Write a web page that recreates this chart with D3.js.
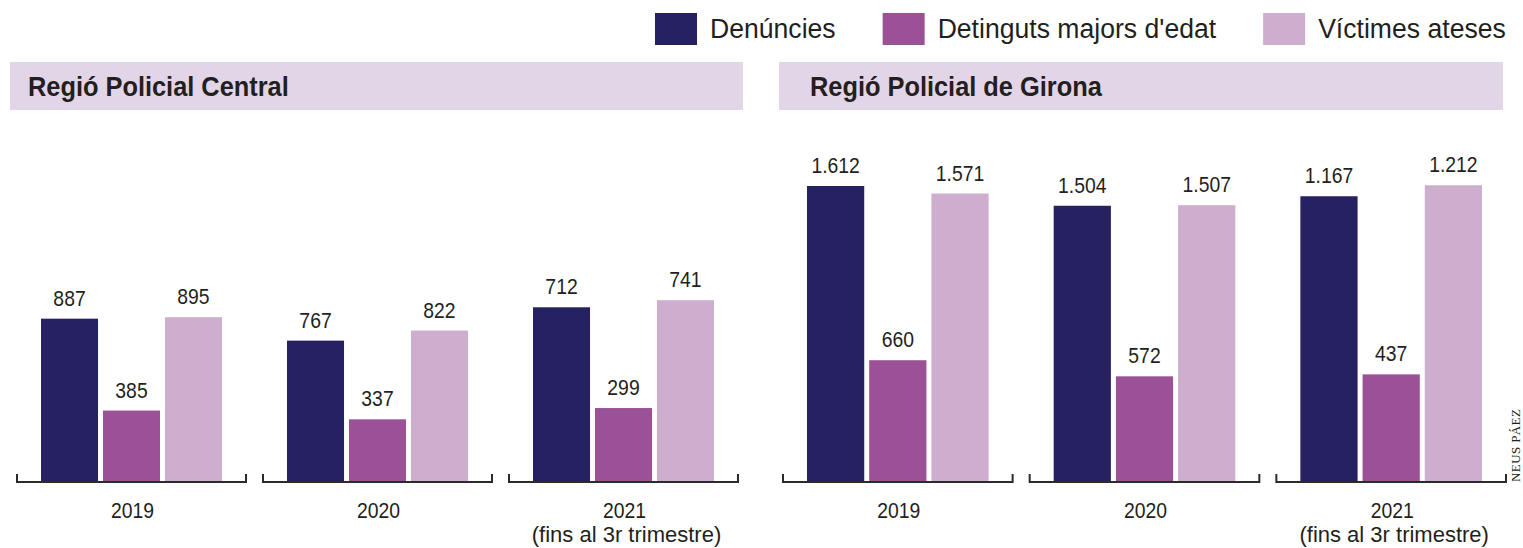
<!DOCTYPE html>
<html>
<head>
<meta charset="utf-8">
<script src="https://cdn.jsdelivr.net/npm/d3@7"></script>
<style>
  body { margin: 0; background: #fff; }
  svg text { font-family: "Liberation Sans", Arial, sans-serif; fill: #231f20; }
</style>
</head>
<body>
<div id="chart"></div>
<script>
// data
const years = ["2019", "2020", "2021"];
const yearNotes = ["", "", "(fins al 3r trimestre)"];
const yearMonths = [12, 12, 9];   // 2021 only covers three quarters
const series = ["Denúncies", "Detinguts majors d'edat", "Víctimes ateses"];
const colors = ["#262262", "#9b5196", "#cdaecf"];

const regions = ["Regió Policial Central", "Regió Policial de Girona"];
const centralDenuncies = [887, 767, 712];
const centralDetinguts = [385, 337, 299];
const centralVictimes  = [895, 822, 741];
const gironaDenuncies  = [1612, 1504, 1167];
const gironaDetinguts  = [660, 572, 437];
const gironaVictimes   = [1571, 1507, 1212];

const panelValues = [
    [centralDenuncies, centralDetinguts, centralVictimes],
    [gironaDenuncies, gironaDetinguts, gironaVictimes]
];

const W = 1523, H = 548;
const baseline = 481;

const svg = d3.select("#chart").append("svg")
    .attr("width", W)
    .attr("height", H);

const fmt = d3.formatLocale({ decimal: ",", thousands: ".", grouping: [3], currency: ["", "€"] }).format(",d");

// condensed look: squeeze text horizontally
function label(parent, x, y, str, size, sx, opts = {}) {
    const t = parent.append("text")
        .attr("transform", `translate(${x},${y}) scale(${sx},1)`)
        .attr("text-anchor", opts.anchor || "start")
        .style("font-size", size + "px")
        .style("font-weight", opts.bold ? "bold" : "normal")
        .text(str);
    return t;
}

// partial years are drawn as if scaled to a full year
const maxVal = d3.max(panelValues.flat(2));
const yScales = yearMonths.map(m => d3.scaleLinear()
    .domain([0, maxVal * m / 12])
    .range([baseline, 186]));

// legend
let lx = 655;
series.forEach((s, i) => {
    svg.append("rect")
        .attr("x", lx).attr("y", 13)
        .attr("width", 42).attr("height", 32)
        .attr("fill", colors[i]);
    const t = label(svg, lx + 55, 38, s, 28, 0.95);
    lx += 55 + t.node().getComputedTextLength() * 0.95 + 47;
});

const panels = [
    { band: [10, 743], range: [16, 739], titleX: 28 },
    { band: [779, 1503], range: [782, 1507], titleX: 810 }
];

panels.forEach((p, pi) => {
    const g = svg.append("g");

    g.append("rect")
        .attr("x", p.band[0]).attr("y", 62)
        .attr("width", p.band[1] - p.band[0]).attr("height", 48)
        .attr("fill", "#e3d5e8");

    label(g, p.titleX, 96, regions[pi], 27, 0.94, { bold: true });

    const x0 = d3.scaleBand()
        .domain(years)
        .range(p.range)
        .paddingInner(0.061);

    const bw = x0.bandwidth();
    const x1 = d3.scaleBand()
        .domain(series)
        .range([25, bw - 25])
        .paddingInner(0.08);

    years.forEach((yr, yi) => {
        const y = yScales[yi];
        const grp = g.append("g")
            .attr("transform", `translate(${x0(yr)},0)`);

        const vals = series.map((s, si) => ({ s, si, v: panelValues[pi][si][yi] }));

        grp.selectAll("rect.bar")
            .data(vals)
            .join("rect")
            .attr("class", "bar")
            .attr("x", d => x1(d.s))
            .attr("y", d => y(d.v))
            .attr("width", x1.bandwidth())
            .attr("height", d => baseline - y(d.v))
            .attr("fill", d => colors[d.si]);

        vals.forEach(d => {
            label(grp, x1(d.s) + x1.bandwidth() / 2, y(d.v) - 13, fmt(d.v), 22, 0.88, { anchor: "middle" });
        });

        // bracket under each group
        grp.append("path")
            .attr("d", `M1,${baseline - 7}V${baseline + 1}H${bw - 1}V${baseline - 7}`)
            .attr("fill", "none")
            .attr("stroke", "#2b2b2b")
            .attr("stroke-width", 2);

        label(grp, bw / 2 + 1, 518, yr, 22, 0.88, { anchor: "middle" });
        if (yearNotes[yi]) {
            label(grp, bw / 2 + 3, 542, yearNotes[yi], 22, 1.0, { anchor: "middle" });
        }
    });
});

// credit
svg.append("text")
    .attr("transform", `translate(1520,${baseline + 1}) rotate(-90)`)
    .style("font-family", "'Liberation Serif', serif")
    .style("font-size", "13px")
    .style("letter-spacing", "0.4px")
    .text("NEUS PÁEZ");
</script>
</body>
</html>
